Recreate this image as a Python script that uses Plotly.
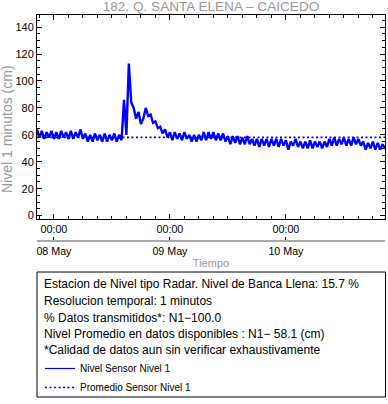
import pandas as pd
import plotly.graph_objects as go

# ---------------- data ----------------
start_time = "2024-05-07 20:30"
step = "30min"
level_cm = [
    64, 58, 63, 57, 62, 58, 63, 57,
    62, 57, 63, 58, 62, 57, 63, 57, 62, 58,
    64,
    57, 61, 55, 60, 55, 61, 56, 60, 55, 61, 55, 60, 56, 61, 55, 60, 56,
    86, 60, 113, 84, 80, 72, 77, 68, 72, 80, 74, 75, 69, 70, 65, 66, 61, 64, 58,
    62, 56, 62, 57, 61, 56, 62, 57,
    60, 55, 60, 55, 60, 56,
    62, 56, 62, 57, 62, 56, 61, 56, 61,
    55, 59, 53, 59, 54, 59, 53, 58, 53, 59, 53,
    57, 52, 57, 51, 57, 52, 57, 51, 57, 52, 57, 51, 57, 52, 56,
    49, 55, 52, 57,
    51, 55, 50, 55, 50, 56, 50, 55, 51, 55, 50, 55, 51,
    57, 52, 58, 52, 57, 53, 58, 52, 57, 52, 58, 53, 57, 52,
    55, 49, 54, 50, 55, 49, 54, 49, 53, 50,
]
avg_level = 58.1
x_start = "2024-05-07 20:30"
x_end = "2024-05-10 20:30"
day_ticks = ["2024-05-08 00:00", "2024-05-09 00:00", "2024-05-10 00:00"]
hour_labels = ["00:00", "00:00", "00:00"]
day_labels = ["08 May", "09 May", "10 May"]
y_range = [-2.5, 149]

title_text = "182. Q. SANTA ELENA \u2013 CAICEDO"
y_title = "Nivel 1 minutos (cm)"
x_title = "Tiempo"
info_lines = [
    "Estacion de Nivel tipo Radar. Nivel de Banca Llena: 15.7 %",
    "Resolucion temporal: 1 minutos",
    "% Datos transmitidos*: N1\u2212100.0",
    "Nivel Promedio en datos disponibles : N1\u2212 58.1 (cm)",
    "*Calidad de datos aun sin verificar exhaustivamente",
]
series_names = ["Nivel Sensor Nivel 1", "Promedio Sensor Nivel 1"]

# ---------------- layout helpers ----------------
W, H = 388, 404
L, R, T, B = 37, 3, 15, 163
PW, PH = W - L - R, H - T - B


def px_x(px):
    return (px - L) / PW


def px_y(py):
    return (H - B - py) / PH


FONT = "Liberation Sans, Arial, Helvetica, sans-serif"
GRAY = "#999999"
BLUE = "#0000ff"

times = pd.date_range(start_time, periods=len(level_cm), freq=step)

fig = go.Figure()
# data series (thick band look); legend entry drawn by a thin proxy below
fig.add_trace(go.Scatter(
    x=times, y=level_cm, mode="lines", name=series_names[0], showlegend=False,
    line=dict(color=BLUE, width=2.4), xaxis="x", yaxis="y",
))
fig.add_trace(go.Scatter(
    x=[None], y=[None], mode="lines", name=series_names[0],
    line=dict(color=BLUE, width=1.2), xaxis="x", yaxis="y",
))
fig.add_trace(go.Scatter(
    x=[x_start, x_end], y=[avg_level, avg_level], mode="lines", name=series_names[1],
    line=dict(color=BLUE, width=1.6, dash="2px,2.5px"), xaxis="x2", yaxis="y",
))

axis_common = dict(showgrid=False, zeroline=False, automargin=False)

fig.update_layout(
    width=W, height=H,
    margin=dict(l=L, r=R, t=T, b=B, pad=0, autoexpand=False),
    paper_bgcolor="white", plot_bgcolor="white",
    font=dict(family=FONT, color="black", size=11),
    title=dict(text=title_text, x=0.5, xref="paper", xanchor="center",
               y=1 - 6 / H, yref="container", yanchor="middle",
               font=dict(size=13.6, color=GRAY, family=FONT)),
    xaxis=dict(
        **axis_common, range=[x_start, x_end],
        tickmode="array", tickvals=day_ticks, ticktext=hour_labels,
        ticks="inside", ticklen=5, tickcolor="black", tickwidth=1,
        showline=True, linecolor="black", linewidth=1, mirror="ticks",
        tickfont=dict(size=10.7),
        minor=dict(tick0="2024-05-08 00:00", dtick=3 * 3600 * 1000,
                   ticks="inside", ticklen=3, tickcolor="black", showgrid=False),
    ),
    xaxis2=dict(
        **axis_common, overlaying="x", anchor="free", position=0, side="bottom",
        matches="x",
        tickmode="array", tickvals=day_ticks, ticktext=day_labels,
        ticks="inside", ticklen=3, tickcolor="black",
        showline=True, linecolor="#aaaaaa", linewidth=2,
        tickfont=dict(size=10.7),
        title=dict(text=x_title, font=dict(size=11, color=GRAY), standoff=2),
    ),
    yaxis=dict(
        **axis_common, domain=[px_y(219), 1], range=y_range,
        tick0=0, dtick=20, ticks="inside", ticklen=5, tickcolor="black",
        showline=True, linecolor="black", linewidth=1, mirror="ticks",
        tickfont=dict(size=11),
        minor=dict(dtick=5, ticks="inside", ticklen=3, tickcolor="black", showgrid=False),
    ),
    showlegend=True,
    legend=dict(x=px_x(40), xanchor="left", y=px_y(354), yanchor="top",
                font=dict(size=10), bgcolor="rgba(0,0,0,0)", borderwidth=0,
                tracegroupgap=0),
)

# y-axis title (IDL places it slightly below the axis centre)
fig.add_annotation(text=y_title, xref="paper", yref="paper", x=px_x(7), y=px_y(129),
                   textangle=-90, xanchor="center", yanchor="middle", showarrow=False,
                   font=dict(size=14, color=GRAY, family=FONT))

# info box frame
fig.add_shape(type="rect", xref="paper", yref="paper",
              x0=px_x(37), x1=px_x(385.5), y0=px_y(272), y1=px_y(397),
              line=dict(color="black", width=1), fillcolor="rgba(0,0,0,0)")

line_y = [284, 301, 317.5, 334, 350]
for txt, py in zip(info_lines, line_y):
    fig.add_annotation(text=txt, xref="paper", yref="paper", x=px_x(42), y=px_y(py),
                       xanchor="left", yanchor="middle", showarrow=False,
                       font=dict(size=12, color="black", family=FONT))

fig.write_html(
    "out.html",
    config={"displayModeBar": False, "staticPlot": True},
    post_script="document.body.style.margin='0';document.body.style.overflow='hidden';",
)
